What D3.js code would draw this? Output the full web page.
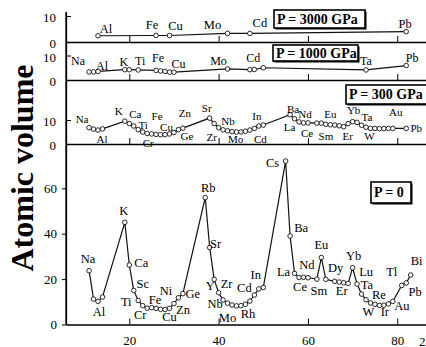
<html>
<head>
<style>
  body { margin: 0; background: #fff; }
  text { font-family: "Liberation Serif", "Times New Roman", serif; fill: #000; }
</style>
</head>
<body>
<div id="chart"></div>
<script src="https://d3js.org/d3.v7.min.js"></script>
<script>
// atomic number / atomic volume
var zTicks = [20, 40, 60, 80];

var z3000 = [13, 26, 29, 42, 47, 82];
var v3000 = [2.4, 2.5, 2.5, 3.3, 3.3, 4.0];
var lab3000 = ["Al", "Fe", "Cu", "Mo", "Cd", "Pb"];
var labZ3000 = [13, 26, 29, 42, 47, 82];

var z1000 = [11, 12, 13, 19, 20, 22, 26, 27, 28, 29, 30, 42, 47, 48, 50, 73, 82];
var v1000 = [3.3, 3.3, 3.5, 4.2, 4.2, 4.1, 3.9, 3.7, 3.5, 3.2, 3.2, 4.5, 4.2, 4.3, 5.0, 4.1, 5.9];
var lab1000 = ["Na", "Al", "K", "Ti", "Fe", "Cu", "Mo", "Cd", "Ta", "Pb"];
var labZ1000 = [11, 13, 19, 22, 26, 29, 42, 48, 73, 82];

var z300 = [11, 12, 13, 14, 19, 20, 21, 22, 23, 24, 25, 26, 27, 28, 29, 30, 31, 32,
  38, 39, 40, 41, 42, 43, 44, 45, 46, 47, 48, 49, 50,
  56, 57, 58, 59, 60, 62, 63, 64, 65, 66, 67, 68, 69, 70, 71, 72, 73, 74, 75, 76, 77, 78, 79, 82];
var v300 = [6.8, 6.2, 5.8, 6.3, 9.5, 8.5, 7.5, 6.0, 5.0, 4.4, 4.2, 4.0, 3.9, 3.9, 4.2, 4.8, 6.0, 6.6,
  10.8, 8.5, 6.8, 5.9, 5.5, 5.2, 5.0, 5.0, 5.3, 5.8, 6.5, 7.5, 7.9,
  12.2, 10.5, 9.2, 8.8, 8.8, 8.7, 8.7, 8.2, 8.0, 7.9, 7.6, 7.2, 8.5, 9.3, 9.0, 7.8, 7.0, 6.5, 6.5, 6.4, 6.4, 6.5, 6.5, 6.5];
var lab300 = ["Na", "Al", "K", "Ca", "Ti", "Fe", "Cu", "Zn", "Sr", "Nb", "Cr", "Ge", "Zr", "Mo", "Cd", "In",
  "Ba", "La", "Nd", "Eu", "Ce", "Sm", "Er", "Yb", "Ta", "W", "Au", "Pb"];
var labZ300 = [11, 13, 19, 20, 22, 26, 29, 30, 38, 41, 24, 32, 40, 42, 48, 49,
  56, 57, 60, 63, 58, 62, 68, 70, 73, 74, 79, 82];

var z0 = [11, 12, 13, 14, 19, 20, 21, 22, 23, 24, 25, 26, 27, 28, 29, 30, 31, 32,
  37, 38, 39, 40, 41, 42, 43, 44, 45, 46, 47, 48, 49, 50,
  55, 56, 57, 58, 59, 60, 62, 63, 64, 66, 67, 68, 69, 70, 71, 72, 73, 74, 75, 76, 77, 78, 79,
  81, 82, 83];
var v0 = [23.7, 11.2, 10.2, 12.1, 45, 26.2, 15.0, 10.6, 8.3, 7.2, 7.4, 7.1, 6.7, 6.6, 7.1, 9.2, 11.8, 13.6,
  55.9, 33.9, 19.9, 14.0, 10.8, 9.4, 8.6, 8.2, 8.3, 8.9, 10.3, 13.0, 15.7, 16.3,
  72, 39, 22.5, 20.7, 20.8, 20.6, 20.0, 29.5, 19.9, 19.0, 18.7, 18.4, 18.1, 25.0, 17.8, 13.4, 10.9, 9.5, 8.9, 8.4, 8.5, 9.1, 10.2,
  17.2, 18.3, 21.8];
var lab0 = ["Na", "Al", "K", "Ca", "Sc", "Ti", "Cr", "Fe", "Ni", "Cu", "Zn", "Ge", "Rb", "Sr", "Y", "Zr", "Nb", "Mo", "Rh",
  "Cd", "In", "Cs", "Ba", "La", "Ce", "Nd", "Sm", "Eu", "Dy", "Er", "Yb", "Lu", "Ta", "W", "Re", "Ir", "Au", "Tl", "Pb", "Bi"];
var labZ0 = [11, 13, 19, 20, 21, 22, 24, 26, 28, 29, 30, 32, 37, 38, 39, 40, 41, 42, 45,
  48, 49, 55, 56, 57, 58, 60, 62, 63, 66, 68, 70, 71, 73, 74, 75, 77, 79, 81, 82, 83];

// label offsets (px) from their point
var off3000 = [[8, -7], [-4, -11], [6, -10], [-15, -8], [10, -10], [-1, -8]];
var off1000 = [[-11, -11], [4, -5], [-1, -8], [2, -9], [2, -12], [9, -8], [-9, -8], [-1, -11], [0, -9], [6, -8]];
var off300 = [[-7, -9], [4, 9], [-6, -10], [6, -10], [5, -5], [1, -18], [-3, -7], [11, -19], [-3, -10], [5, -9],
  [1, 10], [4, 8], [-7, 9], [8, 8], [6, 11], [-2, -10],
  [3, -6], [-5, 8], [-3, -9], [9, -9], [8, 11], [9, 13], [4, 9], [1, -12], [1, -10], [-1, 8], [3, -16], [10, 0]];
var off0 = [[-1, -12], [1, 11], [-1, -11], [12, -2], [9, -6], [-12, 2], [-7, 7], [-1, -8], [1, -19], [0, 9], [9, 6], [10, 0],
  [3, -10], [6, -4], [-4, 7], [8, -9], [-8, 4], [0, 15], [7, 8],
  [-10, -7], [-3, -14], [-13, 2], [11, -8], [-11, -1], [1, 9], [-1, -13], [2, 12], [0, -13], [1, -13], [-2, 8],
  [1, -12], [9, -12], [1, -15], [-2, 9], [4, -9], [1, 7], [9, 5], [-10, -13], [9, 9], [6, -14]];

var width = 426, height = 347;
var left = 66, right = 426;

var svg = d3.select("#chart").append("svg")
  .attr("width", width).attr("height", height)
  .attr("font-family", "Liberation Serif, Times New Roman, serif");

var x = d3.scaleLinear().domain([5.83, 86.43]).range([left, right]);

var panels = [
  { z: z3000, v: v3000, lab: lab3000, labZ: labZ3000, off: off3000, y0: 42, top: 12, per: 2.6,
    yt: [0, 10], tick: -5, fs: 12.5, box: "P = 3000 GPa", bx: 274, by: 10, bw: 91, bh: 18 },
  { z: z1000, v: v1000, lab: lab1000, labZ: labZ1000, off: off1000, y0: 80, top: 42, per: 2.45,
    yt: [0, 10], tick: -5, fs: 12, box: "P = 1000 GPa", bx: 273, by: 45, bw: 85, bh: 16 },
  { z: z300, v: v300, lab: lab300, labZ: labZ300, off: off300, y0: 144, top: 80, per: 2.4,
    yt: [0, 10], tick: -5, fs: 11, box: "P = 300 GPa", bx: 346, by: 85, bw: 90, bh: 19 },
  { z: z0, v: v0, lab: lab0, labZ: labZ0, off: off0, y0: 324.5, top: 144, per: 2.27,
    yt: [0, 20, 40, 60], tick: 4, fs: 12.5, box: "P = 0", bx: 371, by: 182, bw: 40, bh: 21 }
];

panels.forEach(function (p, pi) {
  var y = d3.scaleLinear().domain([0, (p.y0 - p.top) / p.per]).range([p.y0, p.top]);
  var g = svg.append("g");

  // left axis
  var ya = g.append("g")
    .attr("transform", "translate(" + left + ",0)")
    .call(d3.axisLeft(y).tickValues(p.yt).tickSizeInner(p.tick).tickSizeOuter(0)
      .tickPadding(p.tick < 0 ? 10 : 5));
  ya.attr("font-family", null);
  ya.selectAll("text").style("font-size", "13px").attr("dy", pi === 3 ? "0.32em" : "0.45em");
  ya.select(".domain").attr("stroke-width", 1.3);

  // bottom axis
  var xa = g.append("g")
    .attr("transform", "translate(0," + p.y0 + ")")
    .call(d3.axisBottom(x).tickValues(zTicks).tickSizeInner(-6).tickSizeOuter(0)
      .tickPadding(11).tickFormat(pi === 3 ? d3.format("d") : ""));
  xa.attr("font-family", null);
  xa.selectAll("text").style("font-size", "13px");
  xa.select(".domain").attr("stroke-width", 1.5);

  var pts = p.z.map(function (d, i) { return { z: d, v: p.v[i] }; });

  g.append("path")
    .datum(pts)
    .attr("fill", "none")
    .attr("stroke", "#111")
    .attr("stroke-width", 1.2)
    .attr("d", d3.line()
      .x(function (d) { return x(d.z); })
      .y(function (d) { return y(d.v); }));

  g.selectAll("circle")
    .data(pts)
    .enter()
    .append("circle")
    .attr("cx", function (d) { return x(d.z); })
    .attr("cy", function (d) { return y(d.v); })
    .attr("r", 2.3)
    .attr("fill", "#fff")
    .attr("stroke", "#111")
    .attr("stroke-width", 0.9);

  g.selectAll("text.el")
    .data(p.lab)
    .enter()
    .append("text")
    .attr("class", "el")
    .attr("x", function (d, i) {
      var k = p.z.indexOf(p.labZ[i]);
      return x(p.z[k]) + p.off[i][0];
    })
    .attr("y", function (d, i) {
      var k = p.z.indexOf(p.labZ[i]);
      return y(p.v[k]) + p.off[i][1];
    })
    .attr("text-anchor", "middle")
    .attr("dominant-baseline", "central")
    .style("font-size", p.fs + "px")
    .text(function (d) { return d; });

  // pressure box
  g.append("rect")
    .attr("x", p.bx + 1.5).attr("y", p.by + 1.5)
    .attr("width", p.bw).attr("height", p.bh)
    .attr("fill", "#000");
  g.append("rect")
    .attr("x", p.bx).attr("y", p.by)
    .attr("width", p.bw).attr("height", p.bh)
    .attr("fill", "#fff").attr("stroke", "#000").attr("stroke-width", 1.6);
  g.append("text")
    .attr("x", p.bx + 3)
    .attr("y", p.by + p.bh / 2)
    .attr("dominant-baseline", "central")
    .style("font-size", "14px")
    .style("font-weight", "bold")
    .text(p.box);
});

// left axis line through all panels
svg.append("line")
  .attr("x1", left).attr("x2", left)
  .attr("y1", 12).attr("y2", 324.5)
  .attr("stroke", "#000").attr("stroke-width", 1.3);

svg.append("text")
  .attr("x", 419).attr("y", 346)
  .style("font-size", "13px")
  .text("2");

svg.append("text")
  .attr("transform", "translate(33,168) rotate(-90)")
  .attr("text-anchor", "middle")
  .style("font-size", "32px")
  .style("font-weight", "bold")
  .text("Atomic volume");
</script>
</body>
</html>
